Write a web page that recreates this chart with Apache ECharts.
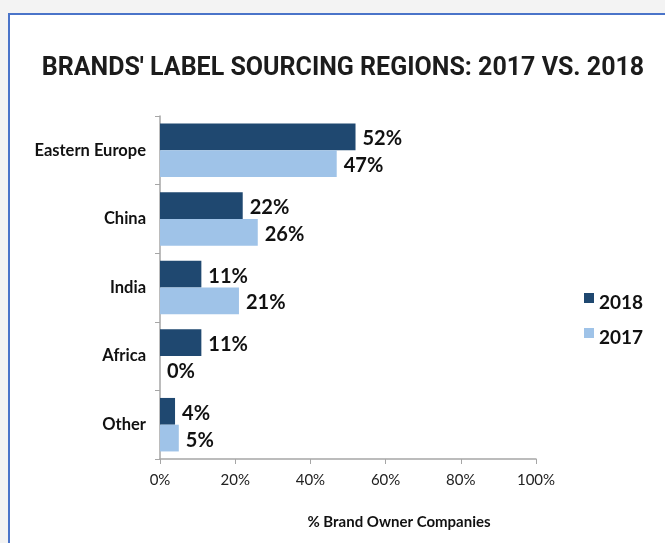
<!DOCTYPE html>
<html>
<head>
<meta charset="utf-8">
<title>Brands' Label Sourcing Regions</title>
<script src="https://cdn.jsdelivr.net/npm/echarts@6/dist/echarts.min.js"></script>
<style>
  html, body { margin: 0; padding: 0; background: #f3f3f3; }
  #chart { width: 665px; height: 543px; }
</style>
</head>
<body>
<div id="chart"></div>
<script>
// Sourcing regions, listed top to bottom
const regions = ['Eastern Europe', 'China', 'India', 'Africa', 'Other'];
// Share of brand owner companies (%)
const values2018 = [52, 22, 11, 11, 4];
const values2017 = [47, 26, 21, 0, 5];
const xTicks = [0, 20, 40, 60, 80, 100];

const chart = echarts.init(document.getElementById('chart'), null, { renderer: 'canvas' });

const labelStyle = {
  show: true,
  position: 'right',
  distance: 7,
  offset: [0, 2],
  formatter: p => p.value + '%',
  fontFamily: 'Lato',
  fontWeight: 'bold',
  fontSize: 20,
  color: '#111'
};

// Square marker sitting in the upper half of a taller box, so the
// legend text lines up slightly below the swatch
const legendIcon = 'path://M0,0L10,0L10,10L0,10Z M0,20L0.01,20';

chart.setOption({
  backgroundColor: '#f3f3f3',
  animation: false,
  graphic: [{
    type: 'rect',
    z: -10,
    shape: { x: 9, y: 14, width: 700, height: 600 },
    style: { fill: '#ffffff', stroke: '#4a74c9', lineWidth: 2 }
  }],
  title: [{
    text: "BRANDS' LABEL SOURCING REGIONS: 2017 VS. 2018",
    left: 338,
    top: 51,
    textAlign: 'center',
    textStyle: { fontFamily: 'Roboto', fontWeight: 'bold', fontSize: 25, color: '#1c1c1c' }
  }, {
    text: '% Brand Owner Companies',
    left: 394,
    top: 510,
    textAlign: 'center',
    textStyle: { fontFamily: 'Lato', fontWeight: 'bold', fontSize: 15, color: '#111' }
  }],
  legend: {
    orient: 'vertical',
    left: 579,
    top: 288,
    itemWidth: 10,
    itemHeight: 20,
    itemGap: 15,
    data: [{ name: '2018', icon: legendIcon }, { name: '2017', icon: legendIcon }],
    textStyle: { fontFamily: 'Lato', fontWeight: 'bold', fontSize: 19, color: '#111' }
  },
  grid: { left: 160, right: 129, top: 116, bottom: 84, containLabel: false },
  xAxis: {
    type: 'value',
    min: xTicks[0],
    max: xTicks[xTicks.length - 1],
    interval: xTicks[1] - xTicks[0],
    splitLine: { show: false },
    axisLine: { show: true, lineStyle: { color: '#a6a6a6', width: 1.5 } },
    axisTick: { show: true, length: 5, lineStyle: { color: '#a6a6a6' } },
    axisLabel: {
      margin: 14,
      formatter: v => v + '%',
      fontFamily: 'Lato', fontSize: 15, color: '#222'
    }
  },
  yAxis: {
    type: 'category',
    inverse: true,
    data: regions,
    axisLine: { show: true, lineStyle: { color: '#a6a6a6', width: 1.5 } },
    axisTick: { show: true, length: 5, lineStyle: { color: '#a6a6a6' } },
    axisLabel: {
      margin: 14,
      fontFamily: 'Lato', fontWeight: 'bold', fontSize: 16.5, color: '#111'
    }
  },
  series: [{
    name: '2018',
    type: 'bar',
    data: values2018,
    barGap: '0%',
    barCategoryGap: '22%',
    itemStyle: { color: '#1f4870' },
    label: labelStyle
  }, {
    name: '2017',
    type: 'bar',
    data: values2017,
    itemStyle: { color: '#9fc3e8' },
    label: labelStyle
  }]
});
</script>
</body>
</html>
